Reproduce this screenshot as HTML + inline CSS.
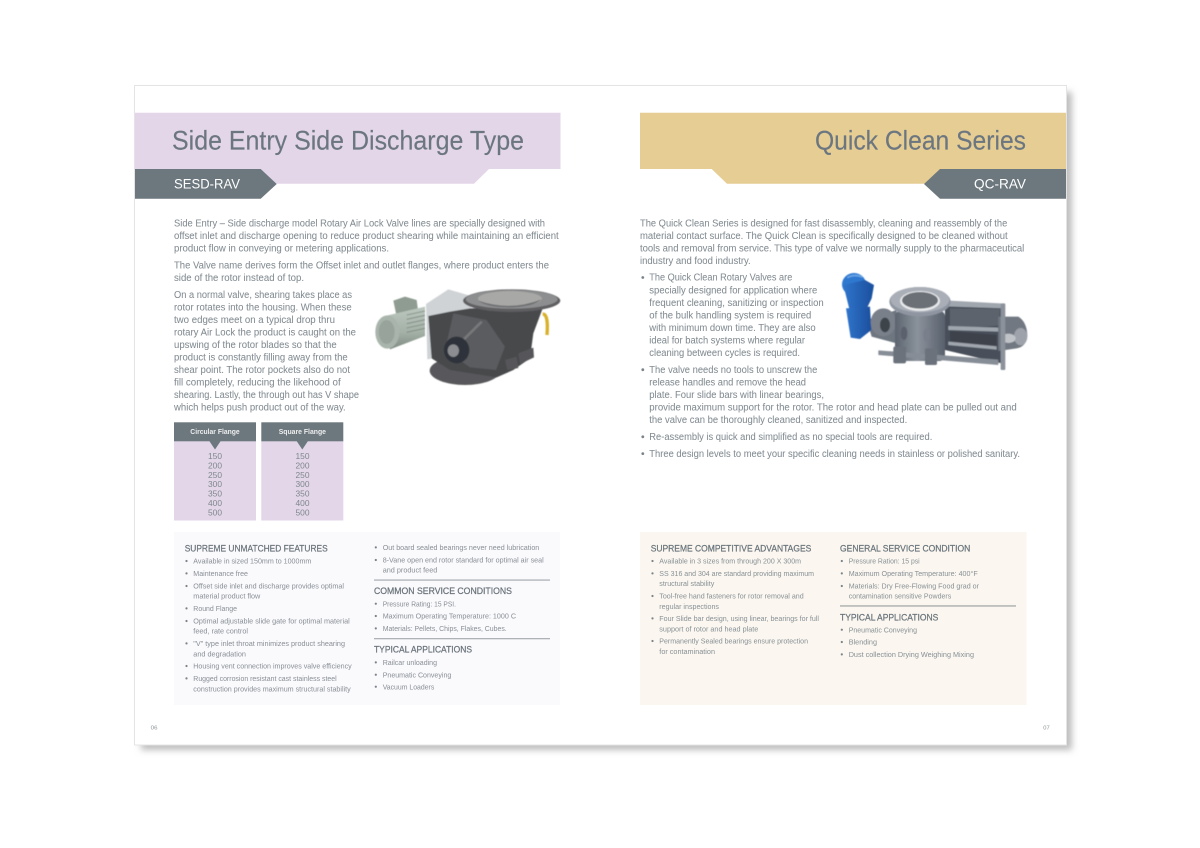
<!DOCTYPE html>
<html><head><meta charset="utf-8"><title>Rotary Air Lock Valves</title>
<style>
html,body{margin:0;padding:0;background:#fff;width:1200px;height:848px;overflow:hidden}
svg{display:block;position:absolute;left:0;top:0;filter:blur(.3px)}
text{font-family:"Liberation Sans",sans-serif;white-space:pre}
.t{font-size:26.5px;fill:#6b7680;stroke:#6b7680;stroke-width:.15}
.c{font-size:13.5px;fill:#fff}
.b{font-size:10px;fill:#838c92;stroke:#838c92;stroke-width:.05}
.s{font-size:7.7px;fill:#889096}
.h{font-size:8.9px;fill:#68737a;stroke:#68737a;stroke-width:.22}
.g{font-size:8.4px;fill:#7f878d;text-anchor:middle}
.f{font-size:7.4px;fill:#eeeeee;font-weight:bold}
.p{font-size:5.6px;fill:#8a9095}
</style></head><body>
<svg xmlns="http://www.w3.org/2000/svg" width="1200" height="848" viewBox="0 0 1200 848">
<defs>
<filter id="sh" x="-5%" y="-5%" width="110%" height="110%"><feGaussianBlur stdDeviation="3.5"/></filter>
<filter id="im" x="-5%" y="-5%" width="110%" height="110%"><feGaussianBlur stdDeviation="1.6"/></filter>
<linearGradient id="mot" x1="0" y1="0" x2="0" y2="1"><stop offset="0" stop-color="#bcc8bf"/><stop offset=".6" stop-color="#a4b1a7"/><stop offset="1" stop-color="#7f8b82"/></linearGradient>
<linearGradient id="blu" x1="0" y1="0" x2="1" y2="0"><stop offset="0" stop-color="#2f75cc"/><stop offset="1" stop-color="#1c4f9e"/></linearGradient>
<linearGradient id="stl" x1="0" y1="0" x2="1" y2="0"><stop offset="0" stop-color="#5c6470"/><stop offset=".45" stop-color="#8b929c"/><stop offset="1" stop-color="#58606c"/></linearGradient>
</defs>

<!-- page -->
<rect x="141" y="92" width="931" height="658" fill="#bdbdbd" filter="url(#sh)"/>
<rect x="134.5" y="85.5" width="932" height="659.5" fill="#fff" stroke="#e4e4e4" stroke-width="1"/>

<!-- left header -->
<path d="M135 112.7H560.5V169H489L474 183.7H135Z" fill="#e3d6e8"/>
<path d="M135 169H260.7L276.7 184L260.7 198.7H135Z" fill="#6c777e"/>
<text class="t" x="172" y="149.5" textLength="352" lengthAdjust="spacingAndGlyphs">Side Entry Side Discharge Type</text>
<text class="c" x="174" y="188.5" textLength="66" lengthAdjust="spacingAndGlyphs">SESD-RAV</text>

<!-- right header -->
<path d="M640 112.7H1066V183.7H727L711.7 169H640Z" fill="#e6cd93"/>
<path d="M1066 169H940L924 184L940 198.7H1066Z" fill="#6c777e"/>
<text class="t" x="815" y="149.5" textLength="211" lengthAdjust="spacingAndGlyphs">Quick Clean Series</text>
<text class="c" x="974" y="188.5" textLength="52" lengthAdjust="spacingAndGlyphs">QC-RAV</text>

<!-- left body -->
<text class="b" x="174" y="226.7" textLength="371" lengthAdjust="spacingAndGlyphs">Side Entry – Side discharge model Rotary Air Lock Valve lines are specially designed with</text>
<text class="b" x="174" y="239" textLength="384.7" lengthAdjust="spacingAndGlyphs">offset inlet and discharge opening to reduce product shearing while maintaining an efficient</text>
<text class="b" x="174" y="251.5" textLength="215" lengthAdjust="spacingAndGlyphs">product flow in conveying or metering applications.</text>
<text class="b" x="174" y="268.7" textLength="375" lengthAdjust="spacingAndGlyphs">The Valve name derives form the Offset inlet and outlet flanges, where product enters the</text>
<text class="b" x="174" y="281" textLength="130" lengthAdjust="spacingAndGlyphs">side of the rotor instead of top.</text>
<text class="b" x="174" y="298" textLength="178" lengthAdjust="spacingAndGlyphs">On a normal valve, shearing takes place as</text>
<text class="b" x="174" y="310.7" textLength="177.7" lengthAdjust="spacingAndGlyphs">rotor rotates into the housing. When these</text>
<text class="b" x="174" y="323" textLength="161" lengthAdjust="spacingAndGlyphs">two edges meet on a typical drop thru</text>
<text class="b" x="174" y="335.7" textLength="182" lengthAdjust="spacingAndGlyphs">rotary Air Lock the product is caught on the</text>
<text class="b" x="174" y="348" textLength="162.7" lengthAdjust="spacingAndGlyphs">upswing of the rotor blades so that the</text>
<text class="b" x="174" y="360.7" textLength="173.7" lengthAdjust="spacingAndGlyphs">product is constantly filling away from the</text>
<text class="b" x="174" y="373" textLength="176" lengthAdjust="spacingAndGlyphs">shear point. The rotor pockets also do not</text>
<text class="b" x="174" y="385.5" textLength="166.7" lengthAdjust="spacingAndGlyphs">fill completely, reducing the likehood of</text>
<text class="b" x="174" y="398" textLength="185" lengthAdjust="spacingAndGlyphs">shearing. Lastly, the through out has V shape</text>
<text class="b" x="174" y="410.7" textLength="171.7" lengthAdjust="spacingAndGlyphs">which helps push product out of the way.</text>

<!-- valve 1 -->
<g transform="translate(370,280) scale(.3333)" filter="url(#im)">
<path d="M168 72L235 28L310 50L300 110L215 230L172 238Z" fill="#cfd3d5"/>
<path d="M70 62L105 50L140 60L145 98L80 110Z" fill="#8f9c92"/>
<path d="M45 108L165 80V168L60 208Z" fill="url(#mot)"/>
<g stroke="#7c887f" stroke-width="2.5"><path d="M110 105L165 93M110 118L165 106M110 131L165 119M110 144L165 132M110 157L165 145"/></g>
<ellipse cx="52" cy="156" rx="36" ry="50" fill="#a9b5ac"/>
<ellipse cx="50" cy="156" rx="24" ry="36" fill="#98a49b"/>
<ellipse cx="285" cy="272" rx="106" ry="43" fill="#58595c"/>
<path d="M175 108L240 95L300 85L520 80L490 160L480 235L430 270L380 292L240 270L185 235Z" fill="#47484b"/>
<path d="M250 100L350 120L405 200L378 270L300 262L225 210Z" fill="#5a5b5e"/>
<path d="M280 180L335 125" stroke="#77787a" stroke-width="8"/>
<path d="M445 220L490 203L492 232L450 252ZM405 240L440 230L445 264L412 270Z" fill="#56575a"/>
<ellipse cx="260" cy="210" rx="38" ry="40" fill="#2f333b"/>
<ellipse cx="250" cy="212" rx="17" ry="19" fill="#8b8d90"/>
<ellipse cx="425" cy="62" rx="146" ry="34" fill="#5e5f62"/>
<ellipse cx="425" cy="58" rx="138" ry="28" fill="#8d8e8f"/>
<ellipse cx="420" cy="56" rx="96" ry="23" fill="#a8a8a6"/>
<path d="M325 62Q420 95 515 58Q490 80 420 82Q350 82 325 62Z" fill="#6c6d6f"/>
<path d="M518 102Q536 102 531 165" fill="none" stroke="#d8b02c" stroke-width="10"/>
</g>

<!-- table -->
<rect x="174" y="441" width="82" height="79.5" fill="#e3d6e8"/>
<rect x="261.3" y="441" width="82" height="79.5" fill="#e3d6e8"/>
<rect x="174" y="422.3" width="82" height="19" fill="#6c777e"/>
<rect x="261.3" y="422.3" width="82" height="19" fill="#6c777e"/>
<path d="M209.3 441H220.7L215 449.5Z" fill="#6c777e"/>
<path d="M296.6 441H308L302.3 449.5Z" fill="#6c777e"/>
<text class="f" x="190.3" y="434" textLength="49.4" lengthAdjust="spacingAndGlyphs">Circular Flange</text>
<text class="f" x="278.7" y="434" textLength="47.3" lengthAdjust="spacingAndGlyphs">Square Flange</text>
<text class="g" x="215" y="459">150</text><text class="g" x="215" y="468.4">200</text><text class="g" x="215" y="477.8">250</text><text class="g" x="215" y="487.2">300</text><text class="g" x="215" y="496.6">350</text><text class="g" x="215" y="506">400</text><text class="g" x="215" y="515.4">500</text>
<text class="g" x="302.5" y="459">150</text><text class="g" x="302.5" y="468.4">200</text><text class="g" x="302.5" y="477.8">250</text><text class="g" x="302.5" y="487.2">300</text><text class="g" x="302.5" y="496.6">350</text><text class="g" x="302.5" y="506">400</text><text class="g" x="302.5" y="515.4">500</text>

<!-- left box -->
<rect x="174" y="532" width="386" height="173" fill="#faf9fc"/>
<text class="h" x="184.7" y="551.3" textLength="143" lengthAdjust="spacingAndGlyphs">SUPREME UNMATCHED FEATURES</text>
<g fill="#7a8389">
<circle cx="186.5" cy="561" r="1.1"/><circle cx="186.5" cy="573.4" r="1.1"/><circle cx="186.5" cy="586" r="1.1"/><circle cx="186.5" cy="608.4" r="1.1"/><circle cx="186.5" cy="621" r="1.1"/><circle cx="186.5" cy="643.4" r="1.1"/><circle cx="186.5" cy="666" r="1.1"/><circle cx="186.5" cy="678.4" r="1.1"/>
<circle cx="375.8" cy="547.4" r="1.1"/><circle cx="375.8" cy="560" r="1.1"/><circle cx="375.8" cy="603.7" r="1.1"/><circle cx="375.8" cy="616" r="1.1"/><circle cx="375.8" cy="628.4" r="1.1"/><circle cx="375.8" cy="662.4" r="1.1"/><circle cx="375.8" cy="674.7" r="1.1"/><circle cx="375.8" cy="686.7" r="1.1"/>
</g>
<text class="s" x="193.3" y="563.7" textLength="118" lengthAdjust="spacingAndGlyphs">Available in sized 150mm to 1000mm</text>
<text class="s" x="193.3" y="576" textLength="54.7" lengthAdjust="spacingAndGlyphs">Maintenance free</text>
<text class="s" x="193.3" y="588.7" textLength="150.7" lengthAdjust="spacingAndGlyphs">Offset side inlet and discharge provides optimal</text>
<text class="s" x="193.3" y="598.7" textLength="67" lengthAdjust="spacingAndGlyphs">material product flow</text>
<text class="s" x="193.3" y="611" textLength="43.7" lengthAdjust="spacingAndGlyphs">Round Flange</text>
<text class="s" x="193.3" y="623.7" textLength="156.4" lengthAdjust="spacingAndGlyphs">Optimal adjustable slide gate for optimal material</text>
<text class="s" x="193.3" y="633.7" textLength="54.7" lengthAdjust="spacingAndGlyphs">feed, rate control</text>
<text class="s" x="193.3" y="646" textLength="151.7" lengthAdjust="spacingAndGlyphs">"V" type inlet throat minimizes product shearing</text>
<text class="s" x="193.3" y="656.3" textLength="52.7" lengthAdjust="spacingAndGlyphs">and degradation</text>
<text class="s" x="193.3" y="668.7" textLength="158.4" lengthAdjust="spacingAndGlyphs">Housing vent connection improves valve efficiency</text>
<text class="s" x="193.3" y="681" textLength="143.4" lengthAdjust="spacingAndGlyphs">Rugged corrosion resistant cast stainless steel</text>
<text class="s" x="193.3" y="691.3" textLength="157.4" lengthAdjust="spacingAndGlyphs">construction provides maximum structural stability</text>
<text class="s" x="382.7" y="550" textLength="156.6" lengthAdjust="spacingAndGlyphs">Out board sealed bearings never need lubrication</text>
<text class="s" x="382.7" y="562.7" textLength="161" lengthAdjust="spacingAndGlyphs">8-Vane open end rotor standard for optimal air seal</text>
<text class="s" x="382.7" y="572.7" textLength="54.6" lengthAdjust="spacingAndGlyphs">and product feed</text>
<rect x="374" y="579.6" width="176" height=".9" fill="#8b9398"/>
<text class="h" x="374" y="594" textLength="138" lengthAdjust="spacingAndGlyphs">COMMON SERVICE CONDITIONS</text>
<text class="s" x="382.7" y="606.3" textLength="73.3" lengthAdjust="spacingAndGlyphs">Pressure Rating: 15 PSI.</text>
<text class="s" x="382.7" y="618.7" textLength="133.3" lengthAdjust="spacingAndGlyphs">Maximum Operating Temperature: 1000 C</text>
<text class="s" x="382.7" y="631" textLength="124" lengthAdjust="spacingAndGlyphs">Materials: Pellets, Chips, Flakes, Cubes.</text>
<rect x="374" y="638.3" width="176" height=".9" fill="#8b9398"/>
<text class="h" x="374" y="652.7" textLength="98" lengthAdjust="spacingAndGlyphs">TYPICAL APPLICATIONS</text>
<text class="s" x="382.7" y="665" textLength="54.3" lengthAdjust="spacingAndGlyphs">Railcar unloading</text>
<text class="s" x="382.7" y="677.3" textLength="68.6" lengthAdjust="spacingAndGlyphs">Pneumatic Conveying</text>
<text class="s" x="382.7" y="689.3" textLength="51.6" lengthAdjust="spacingAndGlyphs">Vacuum Loaders</text>
<text class="p" x="150.7" y="729.7" textLength="6.8" lengthAdjust="spacingAndGlyphs">06</text>

<!-- right body -->
<text class="b" x="640" y="226.7" textLength="367.3" lengthAdjust="spacingAndGlyphs">The Quick Clean Series is designed for fast disassembly, cleaning and reassembly of the</text>
<text class="b" x="640" y="239" textLength="367.7" lengthAdjust="spacingAndGlyphs">material contact surface. The Quick Clean is specifically designed to be cleaned without</text>
<text class="b" x="640" y="251.5" textLength="384.3" lengthAdjust="spacingAndGlyphs">tools and removal from service. This type of valve we normally supply to the pharmaceutical</text>
<text class="b" x="640" y="264" textLength="110.7" lengthAdjust="spacingAndGlyphs">industry and food industry.</text>
<g fill="#7a8389"><circle cx="642.8" cy="277.5" r="1.4"/><circle cx="642.8" cy="369.7" r="1.4"/><circle cx="642.8" cy="436.8" r="1.4"/><circle cx="642.8" cy="453.6" r="1.4"/></g>
<text class="b" x="649.3" y="280.7" textLength="143" lengthAdjust="spacingAndGlyphs">The Quick Clean Rotary Valves are</text>
<text class="b" x="649.3" y="293.3" textLength="168" lengthAdjust="spacingAndGlyphs">specially designed for application where</text>
<text class="b" x="649.3" y="306" textLength="174.4" lengthAdjust="spacingAndGlyphs">frequent cleaning, sanitizing or inspection</text>
<text class="b" x="649.3" y="318.3" textLength="162" lengthAdjust="spacingAndGlyphs">of the bulk handling system is required</text>
<text class="b" x="649.3" y="331" textLength="166.4" lengthAdjust="spacingAndGlyphs">with minimum down time. They are also</text>
<text class="b" x="649.3" y="343.7" textLength="155.7" lengthAdjust="spacingAndGlyphs">ideal for batch systems where regular</text>
<text class="b" x="649.3" y="356" textLength="150.7" lengthAdjust="spacingAndGlyphs">cleaning between cycles is required.</text>
<text class="b" x="649.3" y="373" textLength="168" lengthAdjust="spacingAndGlyphs">The valve needs no tools to unscrew the</text>
<text class="b" x="649.3" y="385.3" textLength="156.7" lengthAdjust="spacingAndGlyphs">release handles and remove the head</text>
<text class="b" x="649.3" y="398" textLength="174.7" lengthAdjust="spacingAndGlyphs">plate. Four slide bars with linear bearings,</text>
<text class="b" x="649.3" y="410.7" textLength="367.4" lengthAdjust="spacingAndGlyphs">provide maximum support for the rotor. The rotor and head plate can be pulled out and</text>
<text class="b" x="649.3" y="423" textLength="258" lengthAdjust="spacingAndGlyphs">the valve can be thoroughly cleaned, sanitized and inspected.</text>
<text class="b" x="649.3" y="440" textLength="283" lengthAdjust="spacingAndGlyphs">Re-assembly is quick and simplified as no special tools are required.</text>
<text class="b" x="649.3" y="457" textLength="370.7" lengthAdjust="spacingAndGlyphs">Three design levels to meet your specific cleaning needs in stainless or polished sanitary.</text>

<!-- valve 2 -->
<g transform="translate(830,265) scale(.3333)" filter="url(#im)">
<path d="M110 165L200 135V235L125 215Z" fill="#6e7680"/>
<ellipse cx="72" cy="58" rx="36" ry="34" fill="#2f78d0"/>
<path d="M40 60L105 45L132 60L125 100L108 135L60 140Z" fill="url(#blu)"/>
<path d="M48 130L120 125L124 195L90 222L62 218Z" fill="url(#blu)"/>
<path d="M52 38Q72 26 98 36" stroke="#6aa5e6" stroke-width="5" fill="none"/>
<ellipse cx="160" cy="172" rx="38" ry="42" fill="#7a808a"/>
<ellipse cx="165" cy="180" rx="15" ry="22" fill="#3e444c"/>
<rect x="195" y="138" width="150" height="150" rx="16" fill="url(#stl)"/>
<ellipse cx="222" cy="205" rx="10" ry="20" fill="#5b626d"/><ellipse cx="290" cy="210" rx="10" ry="20" fill="#79808b"/>
<path d="M345 112L522 120L515 295L345 255Z" fill="#4a505a"/>
<path d="M360 130L510 132L505 182L360 190Z" fill="#5d636d"/>
<path d="M345 106L525 116V130L345 124ZM355 183L505 188V200L355 195ZM355 230L500 244V254L355 240Z" fill="#a0a6ae"/>
<path d="M360 198L500 210V242L360 228Z" fill="#3c424b"/>
<path d="M505 155H565Q590 170 592 210Q590 245 560 250L505 258Z" fill="#727882"/>
<ellipse cx="572" cy="215" rx="20" ry="26" fill="#9ea3ab"/>
<ellipse cx="535" cy="220" rx="22" ry="14" fill="#c0c4c9"/>
<rect x="512" y="115" width="14" height="200" rx="3" fill="#8c929b"/>
<path d="M145 256L505 284V300L145 270Z" fill="#878d96"/>
<rect x="190" y="245" width="38" height="50" rx="5" fill="#6c727c"/>
<rect x="285" y="250" width="36" height="50" rx="5" fill="#6c727c"/>
<ellipse cx="270" cy="110" rx="92" ry="44" fill="#8f96a1"/>
<ellipse cx="270" cy="104" rx="88" ry="38" fill="#a9aeb7"/>
<ellipse cx="270" cy="108" rx="60" ry="30" fill="#e8eaec"/>
<ellipse cx="270" cy="106" rx="54" ry="25" fill="#6b6f76"/>
</g>

<!-- right box -->
<rect x="640" y="532" width="386.5" height="173" fill="#fbf7f0"/>
<text class="h" x="650.7" y="551.3" textLength="160.6" lengthAdjust="spacingAndGlyphs">SUPREME COMPETITIVE ADVANTAGES</text>
<g fill="#7a8389">
<circle cx="652.5" cy="561" r="1.1"/><circle cx="652.5" cy="573.4" r="1.1"/><circle cx="652.5" cy="596" r="1.1"/><circle cx="652.5" cy="618.4" r="1.1"/><circle cx="652.5" cy="641" r="1.1"/>
<circle cx="841.8" cy="561" r="1.1"/><circle cx="841.8" cy="573.4" r="1.1"/><circle cx="841.8" cy="586" r="1.1"/><circle cx="841.8" cy="629.7" r="1.1"/><circle cx="841.8" cy="642" r="1.1"/><circle cx="841.8" cy="654.4" r="1.1"/>
</g>
<text class="s" x="659.3" y="563.7" textLength="141.7" lengthAdjust="spacingAndGlyphs">Available in 3 sizes from through 200 X 300m</text>
<text class="s" x="659.3" y="576" textLength="154.7" lengthAdjust="spacingAndGlyphs">SS 316 and 304 are standard providing maximum</text>
<text class="s" x="659.3" y="586" textLength="55" lengthAdjust="spacingAndGlyphs">structural stability</text>
<text class="s" x="659.3" y="598.7" textLength="144.4" lengthAdjust="spacingAndGlyphs">Tool-free hand fasteners for rotor removal and</text>
<text class="s" x="659.3" y="609" textLength="59.7" lengthAdjust="spacingAndGlyphs">regular inspections</text>
<text class="s" x="659.3" y="621" textLength="159.7" lengthAdjust="spacingAndGlyphs">Four Slide bar design, using linear, bearings for full</text>
<text class="s" x="659.3" y="631.3" textLength="99" lengthAdjust="spacingAndGlyphs">support of rotor and head plate</text>
<text class="s" x="659.3" y="643.7" textLength="148.7" lengthAdjust="spacingAndGlyphs">Permanently Sealed bearings ensure protection</text>
<text class="s" x="659.3" y="654" textLength="55.7" lengthAdjust="spacingAndGlyphs">for contamination</text>
<text class="h" x="840" y="551.3" textLength="130.3" lengthAdjust="spacingAndGlyphs">GENERAL SERVICE CONDITION</text>
<text class="s" x="848.7" y="563.7" textLength="71" lengthAdjust="spacingAndGlyphs">Pressure Ration: 15 psi</text>
<text class="s" x="848.7" y="576" textLength="129" lengthAdjust="spacingAndGlyphs">Maximum Operating Temperature: 400°F</text>
<text class="s" x="848.7" y="588.7" textLength="130.3" lengthAdjust="spacingAndGlyphs">Materials: Dry Free-Flowing Food grad or</text>
<text class="s" x="848.7" y="598.7" textLength="102.6" lengthAdjust="spacingAndGlyphs">contamination sensitive Powders</text>
<rect x="840" y="605.3" width="176" height="1.3" fill="#a5aaa9"/>
<text class="h" x="840" y="620.3" textLength="98.3" lengthAdjust="spacingAndGlyphs">TYPICAL APPLICATIONS</text>
<text class="s" x="848.7" y="632.3" textLength="68.3" lengthAdjust="spacingAndGlyphs">Pneumatic Conveying</text>
<text class="s" x="848.7" y="644.7" textLength="28.3" lengthAdjust="spacingAndGlyphs">Blending</text>
<text class="s" x="848.7" y="657" textLength="125.3" lengthAdjust="spacingAndGlyphs">Dust collection Drying Weighing Mixing</text>
<text class="p" x="1043.3" y="729.7" textLength="6.4" lengthAdjust="spacingAndGlyphs">07</text>
</svg>
</body></html>
